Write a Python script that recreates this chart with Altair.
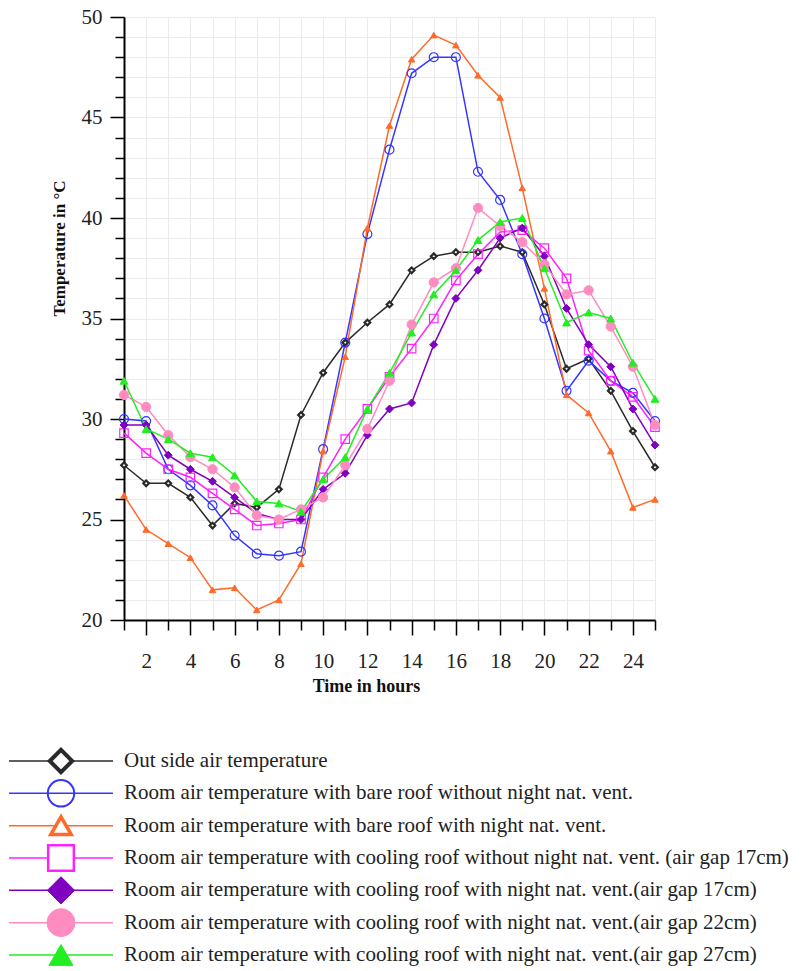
import altair as alt
import pandas as pd

hours = list(range(1, 26))

names = [
    "Out side air temperature",
    "Room air temperature with bare roof without night nat. vent.",
    "Room air temperature with bare roof with night nat. vent.",
    "Room air temperature with  cooling roof  without night nat. vent. (air gap 17cm)",
    "Room air temperature with cooling roof with night nat. vent.(air gap 17cm)",
    "Room air temperature with cooling roof with night nat. vent.(air gap 22cm)",
    "Room air temperature with cooling roof with night nat. vent.(air gap 27cm)",
]

outside = [27.7, 26.8, 26.8, 26.1, 24.7, 25.8, 25.6, 26.5, 30.2, 32.3, 33.8, 34.8, 35.7,
           37.4, 38.1, 38.3, 38.3, 38.6, 38.3, 35.7, 32.5, 33.0, 31.4, 29.4, 27.6]
bare_no_vent = [30.0, 29.9, 27.5, 26.7, 25.7, 24.2, 23.3, 23.2, 23.4, 28.5, 33.8, 39.2, 43.4,
                47.2, 48.0, 48.0, 42.3, 40.9, 38.2, 35.0, 31.4, 32.9, 31.9, 31.3, 29.9]
bare_vent = [26.2, 24.5, 23.8, 23.1, 21.5, 21.6, 20.5, 21.0, 22.8, 28.4, 33.1, 39.5, 44.6,
             47.9, 49.1, 48.6, 47.1, 46.0, 41.5, 36.5, 31.2, 30.3, 28.4, 25.6, 26.0]
cool17_no_vent = [29.3, 28.3, 27.5, 27.1, 26.3, 25.5, 24.7, 24.8, 25.0, 27.1, 29.0, 30.5, 32.1,
                  33.5, 35.0, 36.9, 38.2, 39.3, 39.4, 38.5, 37.0, 33.4, 31.9, 31.1, 29.6]
cool17_vent = [29.7, 29.7, 28.2, 27.5, 26.9, 26.1, 25.3, 25.0, 25.0, 26.5, 27.3, 29.2, 30.5,
               30.8, 33.7, 36.0, 37.4, 39.0, 39.5, 38.1, 35.5, 33.7, 32.6, 30.5, 28.7]
cool22_vent = [31.2, 30.6, 29.2, 28.1, 27.5, 26.6, 25.2, 25.0, 25.5, 26.1, 27.7, 29.5, 31.9,
               34.7, 36.8, 37.5, 40.5, 39.6, 38.8, 37.7, 36.2, 36.4, 34.6, 32.6, 29.7]
cool27_vent = [31.9, 29.5, 29.0, 28.3, 28.1, 27.2, 25.9, 25.8, 25.4, 27.0, 28.1, 30.5, 32.3,
               34.3, 36.2, 37.4, 38.9, 39.8, 40.0, 37.5, 34.8, 35.3, 35.0, 32.8, 31.0]

series_values = [outside, bare_no_vent, bare_vent, cool17_no_vent, cool17_vent, cool22_vent, cool27_vent]

# styles
colors = ["#2a2a2a", "#3535ff", "#ff6a2a", "#ff22ff", "#7f00bf", "#ff8cc0", "#22ee22"]
shapes = ["diamond", "circle", "triangle-up", "square", "diamond", "circle", "triangle-up"]
chart_fills = ["white", "transparent", "#ff6a2a", "transparent", "#7f00bf", "#ff8cc0", "#22ee22"]
chart_sizes = [32, 80, 42, 72, 62, 85, 62]
chart_sw = [2.2, 1.2, 1, 1.2, 1, 1, 1]
legend_fills = ["white", "transparent", "white", "white", "#7f00bf", "#ff8cc0", "#22ee22"]
legend_sizes = [500, 700, 420, 660, 740, 780, 580]
legend_sw = [4, 2, 3.5, 2.5, 1, 1, 1]

rows = []
for i, (n, vals) in enumerate(zip(names, series_values)):
    for h, v in zip(hours, vals):
        rows.append({"series": n, "hour": h, "temp": v, "color": colors[i], "shape": shapes[i],
                     "fill": chart_fills[i], "size": chart_sizes[i], "sw": chart_sw[i], "order": i})
df = pd.DataFrame(rows)

FONT = "Liberation Serif"

x_enc = alt.X(
    "hour:Q",
    scale=alt.Scale(domain=[1, 25], nice=False, zero=False),
    axis=alt.Axis(
        values=hours,
        title="Time in hours",
        labelExpr="datum.value % 2 === 0 ? datum.label : ''",
        tickSize={"condition": {"test": "datum.value % 2 === 0", "value": 15}, "value": 10},
        labelPadding=15,
        titleX=242,
        titleY=66,
        titleBaseline="middle",
        titleAlign="center",
        titleFontSize=18,
        labelFlush=False,
        labelOverlap=False,
    ),
)
y_enc = alt.Y(
    "temp:Q",
    scale=alt.Scale(domain=[20, 50], nice=False, zero=False),
    axis=alt.Axis(
        values=list(range(20, 51)),
        title="Temperature in °C",
        labelExpr="datum.value % 5 === 0 ? datum.label : ''",
        tickSize={"condition": {"test": "datum.value % 5 === 0", "value": 14}, "value": 9},
        labelPadding=8,
        titleX=-65,
        titleY=231,
        titleAngle=270,
        titleBaseline="middle",
        titleAlign="center",
        titleFontSize=17,
        labelFlush=False,
        labelOverlap=False,
    ),
)

base = alt.Chart(df)
lines = base.mark_line(strokeWidth=1.5).encode(
    x=x_enc,
    y=y_enc,
    color=alt.Color("color:N", scale=None),
    detail="series:N",
)
points = base.mark_point(opacity=1).encode(
    x=x_enc,
    y=y_enc,
    shape=alt.Shape("shape:N", scale=None),
    fill=alt.Fill("fill:N", scale=None),
    stroke=alt.Stroke("color:N", scale=None),
    size=alt.Size("size:Q", scale=None),
    strokeWidth=alt.StrokeWidth("sw:Q", scale=None),
)
main = alt.layer(lines, points).properties(width=531, height=603)

leg_df = pd.DataFrame({
    "series": names,
    "color": colors,
    "shape": shapes,
    "fill": legend_fills,
    "size": legend_sizes,
    "sw": legend_sw,
})
leg_y = alt.Y("series:N", axis=None, scale=alt.Scale(type="point", domain=names, padding=0))
leg_base = alt.Chart(leg_df)
leg_rule = leg_base.mark_rule(strokeWidth=1.5).encode(
    x=alt.value(-115), x2=alt.value(-11), y=leg_y,
    color=alt.Color("color:N", scale=None),
)
leg_pts = leg_base.mark_point(opacity=1).encode(
    x=alt.value(-63), y=leg_y,
    shape=alt.Shape("shape:N", scale=None),
    fill=alt.Fill("fill:N", scale=None),
    stroke=alt.Stroke("color:N", scale=None),
    size=alt.Size("size:Q", scale=None),
    strokeWidth=alt.StrokeWidth("sw:Q", scale=None),
)
leg_txt = leg_base.mark_text(align="left", baseline="middle", font=FONT, fontSize=21, color="#222222").encode(
    x=alt.value(0), y=leg_y, text="series:N",
)
legend = alt.layer(leg_rule, leg_pts, leg_txt).properties(width=531, height=194)

chart = alt.vconcat(main, legend, spacing=141, bounds="flush").properties(
    padding={"left": 7, "top": 5, "right": 0, "bottom": 0},
    background="white",
).configure_view(stroke="transparent").configure_axis(
    labelFont=FONT,
    titleFont=FONT,
    labelFontSize=21,
    titleFontWeight="bold",
    labelColor="#222222",
    titleColor="#111111",
    gridColor="#ebebeb",
    gridWidth=1,
    domainColor="#000000",
    domainWidth=2,
    tickColor="#000000",
    tickWidth=1.5,
)

chart.save("out.html", embed_options={"renderer": "svg", "actions": False})
